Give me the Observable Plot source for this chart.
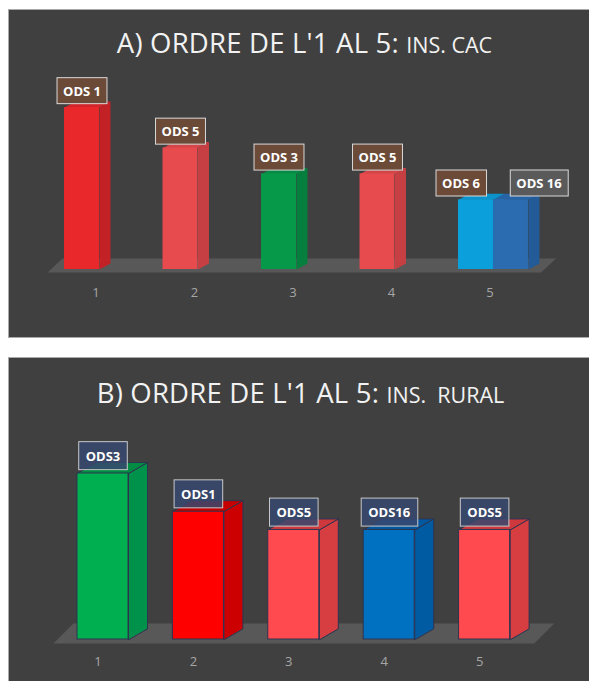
<!DOCTYPE html>
<html>
<head>
<meta charset="utf-8">
<script src="https://cdn.jsdelivr.net/npm/d3@7"></script>
<script src="https://cdn.jsdelivr.net/npm/@observablehq/plot@0.6"></script>
<style>
  html, body { margin: 0; padding: 0; }
  body { width: 589px; height: 681px; overflow: hidden; position: relative; background: #ffffff; font-family: "Open Sans", Lato, sans-serif; }
  .panel { position: absolute; left: 8px; width: 640px; background: #404040; border: 1px solid #a9a9a9; box-sizing: border-box; }
  #panelA { top: 9px; height: 329px; }
  #panelB { top: 357px; height: 360px; }
  .title { position: absolute; white-space: nowrap; color: #f2f2f2; line-height: 1; font-family: "Open Sans", Lato, sans-serif; }
  .title .big { font-size: 27.5px; letter-spacing: 0.2px; }
  .title .small { font-size: 21.5px; }
  .chart { position: absolute; left: 0; }
  #chartA { top: 10px; }
  #chartB { top: 358px; }
</style>
</head>
<body>
<div class="panel" id="panelA"></div>
<div class="panel" id="panelB"></div>
<div class="title" id="titleA"><span class="big">A) ORDRE DE L'1 AL 5: </span><span class="small">INS. CAC</span></div>
<div class="title" id="titleB"><span class="big">B) ORDRE DE L'1 AL 5: </span><span class="small">INS.&nbsp; RURAL</span></div>
<div class="chart" id="chartA"></div>
<div class="chart" id="chartB"></div>
<script>
// ---------------- DATA ----------------
const rankTicks = [1, 2, 3, 4, 5];

// Panel A – Ins. CAC
const odsA   = ["ODS 1", "ODS 5", "ODS 3", "ODS 5", "ODS 6", "ODS 16"];
const rankA  = [1, 2, 3, 4, 5, 5];
const slotA  = [0, 0, 0, 0, 0, 1];           // ODS 16 stands beside ODS 6 in rank 5
const valueA = [5, 3.75, 2.95, 2.95, 2.15, 2.15];

// Panel B – Ins. rural
const odsB   = ["ODS3", "ODS1", "ODS5", "ODS16", "ODS5"];
const rankB  = [1, 2, 3, 4, 5];
const slotB  = [0, 0, 0, 0, 0];
const valueB = [5, 3.85, 3.3, 3.3, 3.3];

// ---------------- STYLES ----------------
const frontA = ["#e8282a", "#e84b4e", "#07994a", "#e84b4e", "#0ba0dc", "#2b6cb0"];
const sideA  = ["#c22226", "#c64043", "#067f3e", "#c64043", "#0a86bb", "#225b98"];
const topA   = ["#d2262a", "#d24548", "#078a44", "#d24548", "#0b93cb", "#2764a6"];
const boxA   = ["#6c4a38", "#6c4a38", "#6c4a38", "#6c4a38", "#6c4a38", "#5a5a5a"];

const frontB = ["#00b050", "#ff0000", "#ff4b4f", "#0070c0", "#ff4b4f"];
const sideB  = ["#00924a", "#cc0000", "#d63e42", "#005ba2", "#d63e42"];
const topB   = ["#008c42", "#c40000", "#cf393d", "#0058a0", "#cf393d"];
const boxB   = ["#37486e", "#37486e", "#37486e", "#37486e", "#37486e"];

function buildPanel(cfg) {
  const { ranks, slots, values, labels, front, side, top, boxes,
          width, height, xRange, yRange, barWidth, depthPx, floor,
          edge, labelDy, labelDx, axisDx, marginBottom, boxPad, boxOpacity, boxStroke } = cfg;
  const xDomain = [0, 6], yDomain = [0, 5];
  const pxX = (xRange[1] - xRange[0]) / (xDomain[1] - xDomain[0]);
  const pxY = (yRange[0] - yRange[1]) / (yDomain[1] - yDomain[0]);
  const dX = depthPx[0] / pxX, dY = depthPx[1] / pxY;

  const bars = values.map((v, i) => {
    const x1 = ranks[i] + slots[i] * barWidth - barWidth / 2;
    return { i, x1, x2: x1 + barWidth, cx: x1 + barWidth / 2, v, label: labels[i],
             front: front[i], side: side[i], top: top[i], box: boxes[i] };
  });
  const sides = bars.flatMap(b => [
    { id: b.i, x: b.x2, y: 0, c: b.side },
    { id: b.i, x: b.x2, y: b.v, c: b.side },
    { id: b.i, x: b.x2 + dX, y: b.v + dY, c: b.side },
    { id: b.i, x: b.x2 + dX, y: dY, c: b.side }
  ]);
  const tops = bars.flatMap(b => [
    { id: b.i, x: b.x1, y: b.v, c: b.top },
    { id: b.i, x: b.x2, y: b.v, c: b.top },
    { id: b.i, x: b.x2 + dX, y: b.v + dY, c: b.top },
    { id: b.i, x: b.x1 + dX, y: b.v + dY, c: b.top }
  ]);
  const fs = floor.slantPx / pxX;
  const floorPts = [
    { id: "floor", x: floor.from, y: floor.front },
    { id: "floor", x: floor.from + fs, y: floor.back },
    { id: "floor", x: floor.to + fs, y: floor.back },
    { id: "floor", x: floor.to, y: floor.front }
  ];

  const groups = labelDx.map(ldx => bars.filter(d => (ldx.which ? ldx.which(d) : true)));
  const labelMarks = labelDx.map((ldx, k) => Plot.text(groups[k], {
    x: "cx", y: "v", text: "label",
    dy: labelDy, dx: ldx.dx,
    fill: "#ffffff", fontWeight: "bold", fontSize: 13,
    textAnchor: "middle", lineAnchor: "middle"
  }));

  const plot = Plot.plot({
    width, height,
    marginLeft: 0, marginRight: 0, marginTop: 0, marginBottom,
    x: { domain: xDomain, range: xRange },
    y: { domain: yDomain, range: yRange, axis: null },
    color: { type: "identity" },
    style: { background: "transparent", overflow: "visible", fontFamily: "'Open Sans', Lato, sans-serif", color: "#a6a6a6" },
    marks: [
      Plot.line(floorPts, { x: "x", y: "y", z: "id", fill: "#585858", stroke: "none", curve: "linear-closed" }),
      Plot.line(sides, { x: "x", y: "y", z: "id", fill: "c", stroke: edge, strokeWidth: 1, curve: "linear-closed" }),
      Plot.line(tops, { x: "x", y: "y", z: "id", fill: "c", stroke: edge, strokeWidth: 1, curve: "linear-closed" }),
      Plot.rect(bars, { x1: "x1", x2: "x2", y1: 0, y2: "v", fill: "front", stroke: edge, strokeWidth: 1, inset: 0 }),
      ...labelMarks,
      Plot.axisX({ ticks: rankTicks, tickSize: 0, tickPadding: 0, dx: axisDx, fontSize: 13, fill: "#a6a6a6", tickFormat: d => String(d) })
    ]
  });
  return { plot, groups, boxPad, boxOpacity, boxStroke };
}

function addBoxes(p) {
  const svg = p.plot;
  const ns = "http://www.w3.org/2000/svg";
  const gs = svg.querySelectorAll('g[aria-label="text"]');
  gs.forEach((g, k) => {
    const data = p.groups[k] || [];
    g.querySelectorAll("text").forEach((t, j) => {
      const b = t.getBBox();
      const r = document.createElementNS(ns, "rect");
      r.setAttribute("x", b.x - p.boxPad[0]);
      r.setAttribute("y", b.y - p.boxPad[1]);
      r.setAttribute("width", b.width + 2 * p.boxPad[0]);
      r.setAttribute("height", b.height + 2 * p.boxPad[1]);
      r.setAttribute("fill", data[j] ? data[j].box : "#555");
      r.setAttribute("fill-opacity", p.boxOpacity);
      r.setAttribute("stroke", p.boxStroke);
      r.setAttribute("stroke-width", 1);
      if (t.getAttribute("transform")) r.setAttribute("transform", t.getAttribute("transform"));
      g.insertBefore(r, t);
    });
  });
}

const A = buildPanel({
  ranks: rankA, slots: slotA, values: valueA, labels: odsA,
  front: frontA, side: sideA, top: topA, boxes: boxA,
  width: 589, height: 327,
  xRange: [-17, 574], yRange: [259, 97],
  barWidth: 0.355, depthPx: [11, 6],
  floor: { from: 0.65, to: 5.66, front: -0.09, back: 0.34, slantPx: 15 },
  edge: "none",
  labelDy: -16,
  labelDx: [
    { dx: 0, which: d => d.i < 4 },
    { dx: -15, which: d => d.i === 4 },
    { dx: 28, which: d => d.i === 5 }
  ],
  axisDx: 14, marginBottom: 50,
  boxPad: [6, 4], boxOpacity: 1, boxStroke: "#d9d9d9"
});

const B = buildPanel({
  ranks: rankB, slots: slotB, values: valueB, labels: odsB,
  front: frontB, side: sideB, top: topB, boxes: boxB,
  width: 589, height: 323,
  xRange: [7.1, 579.5], yRange: [281, 115],
  barWidth: 0.535, depthPx: [19, 11],
  floor: { from: 0.48, to: 5.52, front: -0.12, back: 0.48, slantPx: 20 },
  edge: "#2e3450",
  labelDy: -17,
  labelDx: [ { dx: 0 } ],
  axisDx: -5, marginBottom: 25,
  boxPad: [7, 5], boxOpacity: 0.85, boxStroke: "#c8c8c8"
});

document.getElementById("chartA").appendChild(A.plot);
document.getElementById("chartB").appendChild(B.plot);
addBoxes(A);
addBoxes(B);

// Title placement
function placeTitle(id, centerX, baselineY) {
  const el = document.getElementById(id);
  const big = el.querySelector(".big");
  const w = el.getBoundingClientRect().width;
  el.style.left = (centerX - w / 2) + "px";
  const probe = document.createElement("span");
  probe.style.display = "inline-block"; probe.style.width = "0px"; probe.style.height = "0px";
  big.appendChild(probe);
  el.style.top = "0px";
  const base = probe.getBoundingClientRect().top - el.getBoundingClientRect().top;
  el.style.top = (baselineY - base) + "px";
  probe.remove();
}
placeTitle("titleA", 304.5, 53);
placeTitle("titleB", 300.5, 403);
</script>
</body>
</html>
